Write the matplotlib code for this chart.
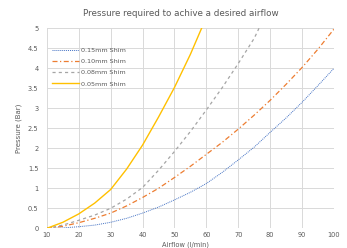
import matplotlib
matplotlib.use("Agg")
from matplotlib import pyplot as plt

# airflow values (l/min)
airflow = [10, 15, 20, 25, 30, 35, 40, 45, 50, 55, 60, 65, 70, 75, 80, 85, 90, 95, 100]
shim_015 = [0, 0.01, 0.04, 0.08, 0.15, 0.25, 0.38, 0.53, 0.71, 0.90, 1.12, 1.40, 1.71, 2.03, 2.40, 2.76, 3.15, 3.57, 4.0]
shim_010 = [0, 0.05, 0.14, 0.25, 0.38, 0.56, 0.77, 1.00, 1.27, 1.55, 1.85, 2.15, 2.48, 2.83, 3.20, 3.60, 4.02, 4.48, 4.98]

airflow_008 = [10, 15, 20, 25, 30, 35, 40, 45, 50, 55, 60, 65, 70, 75, 76.5]
shim_008 = [0, 0.08, 0.20, 0.33, 0.50, 0.73, 1.02, 1.45, 1.92, 2.42, 2.96, 3.52, 4.12, 4.75, 5.0]

airflow_005 = [10, 15, 20, 25, 30, 35, 40, 45, 50, 55, 58.5]
shim_005 = [0, 0.15, 0.36, 0.63, 0.97, 1.48, 2.08, 2.78, 3.52, 4.35, 5.0]

labels = ["0.15mm Shim", "0.10mm Shim", "0.08mm Shim", "0.05mm Shim"]
txt_col = "#595959"

fig = plt.figure(figsize=(3.47, 2.48), dpi=100)
ax = fig.add_axes((0.135, 0.0794, 0.8275, 0.8066))

ax.plot(airflow, shim_015, color="#4472C4", linestyle=(0, (1, 1)), linewidth=0.7, label=labels[0])
ax.plot(airflow, shim_010, color="#ED7D31", linestyle=(0, (4, 2, 1, 2)), linewidth=0.9, label=labels[1])
ax.plot(airflow_008, shim_008, color="#A5A5A5", linestyle=(0, (2.5, 2.5)), linewidth=0.9, label=labels[2])
ax.plot(airflow_005, shim_005, color="#FFC000", linewidth=1.0, label=labels[3])

ax.set_xlim(10, 100)
ax.set_ylim(0, 5)
ax.set_xticks(range(10, 101, 10))
ax.set_yticks([0, 0.5, 1, 1.5, 2, 2.5, 3, 3.5, 4, 4.5, 5])
ax.set_yticklabels(["0", "0.5", "1", "1.5", "2", "2.5", "3", "3.5", "4", "4.5", "5"])
ax.grid(True, color="#d9d9d9", linewidth=0.7)
ax.set_axisbelow(True)
for s in ax.spines.values():
    s.set_visible(False)
ax.tick_params(length=0, labelsize=4.8, colors=txt_col, pad=6)
ax.tick_params(axis="x", pad=3)

ax.set_ylabel("Pressure (Bar)", fontsize=5, color=txt_col, labelpad=4)
fig.text(0.535, 0.0, "Airflow (l/min)", ha="center", va="bottom", fontsize=4.8, color=txt_col)
fig.text(0.52, 0.945, "Pressure required to achive a desired airflow", ha="center", va="center",
         fontsize=6.3, color=txt_col)

leg = ax.legend(loc="upper left", bbox_to_anchor=(0.0, 0.93), frameon=False, fontsize=4.6,
                handlelength=4.2, handletextpad=0.3, labelspacing=0.9, borderaxespad=0.4)
for t in leg.get_texts():
    t.set_color(txt_col)

plt.savefig("out.png", dpi=100)
